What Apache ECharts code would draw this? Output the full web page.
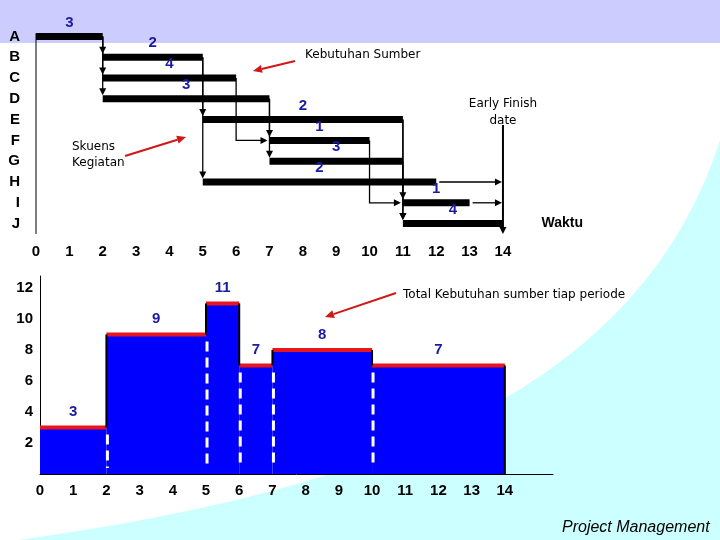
<!DOCTYPE html>
<html><head><meta charset="utf-8">
<script src="https://cdn.jsdelivr.net/npm/echarts@6/dist/echarts.min.js"></script>
<style>html,body{margin:0;padding:0;background:#fff}#c{width:720px;height:540px}</style>
</head><body><div id="c"></div><script>
// ---- data ----
const activities = ['A','B','C','D','E','F','G','H','I','J'];
const taskStart = [0,2,2,2,5,7,7,5,11,11];
const taskEnd   = [2,5,6,7,11,10,11,12,13,14];
const taskResource = [3,2,4,3,2,1,3,2,1,4];
const taskPredecessors = [[],['A'],['A'],['A'],['B'],['C','D'],['D'],['B'],['F','E'],['E','G']];
const earlyFinish = 14;
const timeTicks = [0,1,2,3,4,5,6,7,8,9,10,11,12,13,14];
const periodStart = [0,2,5,6,7,10];
const periodEnd   = [2,5,6,7,10,14];
const periodTotal = [3,9,11,7,8,7];
const resourceTicks = [2,4,6,8,10,12];

// ---- styling ----
const LABEL_BLUE = '#1b1ba0';
const BOLD_FONT = 'bold 15px "Liberation Sans", Arial, sans-serif';
const TEXT_FONT = '12px "DejaVu Sans", sans-serif';

function txt(text, x, y, align, vAlign, font, fill) {
  return {type:'text', style:{text:text, x:x, y:y, align:align, textAlign:align,
    verticalAlign:vAlign, textVerticalAlign:vAlign, font:font, fill:fill || '#000'}};
}
function headDown(x, y) {
  return {type:'polygon', shape:{points:[[x-3.5,y-7],[x+3.5,y-7],[x,y]]}, style:{fill:'#000'}};
}
function headRight(x, y) {
  return {type:'polygon', shape:{points:[[x-7,y-3.5],[x-7,y+3.5],[x,y]]}, style:{fill:'#000'}};
}
function line(pts, w, color, dash) {
  return {type:'polyline', shape:{points:pts}, style:{stroke:color||'#000', lineWidth:w||1, fill:null, lineDash:dash||null}};
}

// Gantt bars
function renderTask(params, api) {
  const s = api.value(0), e = api.value(1), row = api.value(2);
  const p0 = api.coord([s, row]), p1 = api.coord([e, row]);
  const h = 7;
  return {type:'group', children:[
    {type:'rect', shape:{x:p0[0], y:p0[1]-h/2, width:p1[0]-p0[0], height:h}, style:{fill:'#000'}},
    txt(String(api.value(3)), (p0[0]+p1[0])/2, p0[1]-h/2-3, 'center', 'bottom', BOLD_FONT, LABEL_BLUE)
  ]};
}

// dependency arrows
const deps = [];
taskPredecessors.forEach((preds, si) => preds.forEach(p => {
  const pi = activities.indexOf(p);
  deps.push([taskEnd[pi], pi, taskStart[si], si]);
}));
const finishTasks = [];
activities.forEach((a, i) => {
  const hasSucc = taskPredecessors.some(pr => pr.includes(a));
  if (!hasSucc && taskEnd[i] < earlyFinish) finishTasks.push([taskEnd[i], i, earlyFinish, i]);
});
function renderDep(params, api) {
  const p = api.coord([api.value(0), api.value(1)]);
  const s = api.coord([api.value(2), api.value(3)]);
  const ch = [];
  if (Math.abs(p[0]-s[0]) < 0.5) {
    ch.push(line([[p[0], p[1]], [p[0], s[1]-8]], 1.3));
    ch.push(headDown(p[0], s[1]-3.5));
  } else if (Math.abs(p[1]-s[1]) < 0.5) {
    ch.push(line([[p[0]+3, p[1]], [s[0]-6, s[1]]], 1.3));
    ch.push(headRight(s[0]-1, s[1]));
  } else {
    ch.push(line([[p[0], p[1]], [p[0], s[1]], [s[0]-8, s[1]]], 1.3));
    ch.push(headRight(s[0]-2, s[1]));
  }
  return {type:'group', children:ch};
}
function renderFinish(params, api) {
  const cs = params.coordSys;
  const v = api.value(0);
  const x = api.coord([v, 0])[0];
  const top = (api.coord([v, 4])[1] + api.coord([v, 5])[1]) / 2 - 5;
  const bottom = cs.y + cs.height;
  const yTopAxis = api.coord([0, 0])[1] - 3;
  return {type:'group', children:[
    line([[cs.x, yTopAxis], [cs.x, bottom]], 1),
    line([[x, top], [x, bottom-6]], 2),
    headDown(x, bottom),
    txt('Early Finish', x, top-21, 'center', 'middle', TEXT_FONT),
    txt('date', x, top-4, 'center', 'middle', TEXT_FONT)
  ]};
}

// resource histogram
function renderPeriod(params, api) {
  const i = params.dataIndex;
  const s = api.value(0), e = api.value(1), v = api.value(2);
  const b0 = api.coord([s, 0]), t1 = api.coord([e, v]);
  const x0 = b0[0], x1 = t1[0], yb = b0[1], yt = t1[1];
  const ch = [
    {type:'rect', shape:{x:x0, y:yt, width:x1-x0, height:yb-yt}, style:{fill:'#0000FF'}},
    {type:'rect', shape:{x:x0, y:yt-2, width:x1-x0, height:4}, style:{fill:'#E8141E'}},
    txt(String(v), (x0+x1)/2, yt-8, 'center', 'bottom', BOLD_FONT, LABEL_BLUE)
  ];
  if (i > 0) {
    const prevTop = api.coord([s, periodTotal[i-1]])[1];
    ch.push(line([[x0, prevTop], [x0, yt]], 2));
    const lowTop = Math.max(prevTop, yt);
    ch.push(line([[x0+1, lowTop+7], [x0+1, yb-6]], 3, '#fff', [10, 6]));
  }
  if (i === periodTotal.length - 1) ch.push(line([[x1, yt], [x1, yb]], 2));
  return {type:'group', children:ch};
}

// ---- decorations ----
function redArrow(x1, y1, x2, y2) {
  const a = Math.atan2(y2-y1, x2-x1), L = 9, W = 4;
  const bx = x2 - L*Math.cos(a), by = y2 - L*Math.sin(a);
  const px = -Math.sin(a)*W, py = Math.cos(a)*W;
  return [
    {type:'line', shape:{x1:x1, y1:y1, x2:bx, y2:by}, style:{stroke:'#d01818', lineWidth:2}},
    {type:'polygon', shape:{points:[[x2,y2],[bx+px,by+py],[bx-px,by-py]]}, style:{fill:'#d01818'}}
  ];
}
function bezierPts(p0, p1, p2, p3, n) {
  const pts = [];
  for (let k = 0; k <= n; k++) {
    const t = k/n, u = 1-t;
    pts.push([u*u*u*p0[0]+3*u*u*t*p1[0]+3*u*t*t*p2[0]+t*t*t*p3[0],
              u*u*u*p0[1]+3*u*u*t*p1[1]+3*u*t*t*p2[1]+t*t*t*p3[1]]);
  }
  return pts;
}
const cyanPts = bezierPts([18,540],[380,490],[640,390],[720,140],60).concat([[720,540]]);
function gtext(text, x, y, font, align) {
  return {type:'text', x:x, y:y, silent:true, style:{text:text, font:font, fill:'#000',
    align:align||'left', textAlign:align||'left', verticalAlign:'middle', textVerticalAlign:'middle'}};
}
const graphics = [
  {type:'rect', z:-10, silent:true, shape:{x:0, y:0, width:720, height:43}, style:{fill:'#CCCCFF'}},
  {type:'polygon', z:-10, silent:true, shape:{points:cyanPts}, style:{fill:'#CCFFFF'}},
  gtext('Kebutuhan Sumber', 305, 55, TEXT_FONT),
  gtext('Skuens', 72, 147, TEXT_FONT),
  gtext('Kegiatan', 72, 163, TEXT_FONT),
  gtext('Total Kebutuhan sumber tiap periode', 403, 295, TEXT_FONT),
  gtext('Project Management', 562, 528, 'italic 16px "Liberation Sans", Arial, sans-serif')
].concat(redArrow(295, 61, 253, 71), redArrow(125, 156, 186, 137), redArrow(396, 293, 325, 317));

const axisLabelX = (margin) => ({
  formatter: v => timeTicks.includes(v) ? String(v) : '',
  color:'#000', fontWeight:'bold', fontSize:15, fontFamily:'"Liberation Sans", Arial, sans-serif', margin:margin
});

const chart = echarts.init(document.getElementById('c'), null, {renderer:'canvas'});
chart.setOption({
  animation:false,
  backgroundColor:'#fff',
  graphic:{elements:graphics},
  grid:[
    {left:36, top:26, width:547, height:208},
    {left:40, top:276, width:513, height:198}
  ],
  xAxis:[
    {gridIndex:0, type:'value', min:0, max:16.4, interval:1,
     axisLine:{lineStyle:{color:'#000', width:1}}, axisTick:{show:false}, splitLine:{show:false},
     axisLabel:axisLabelX(10),
     name:'Waktu', nameLocation:'end', nameGap:0,
     nameTextStyle:{align:'right', verticalAlign:'bottom', padding:[0,0,4,0], color:'#000',
       fontWeight:'bold', fontSize:14, fontFamily:'"Liberation Sans", Arial, sans-serif'}},
    {gridIndex:1, type:'value', min:0, max:15.45, interval:1,
     axisLine:{lineStyle:{color:'#000', width:1}}, axisTick:{show:false}, splitLine:{show:false},
     axisLabel:axisLabelX(9)}
  ],
  yAxis:[
    {gridIndex:0, type:'category', data:activities, inverse:true,
     axisLine:{show:false}, axisTick:{show:false}, splitLine:{show:false},
     axisLabel:{color:'#000', fontWeight:'bold', fontSize:15, fontFamily:'"Liberation Sans", Arial, sans-serif', margin:16}},
    {gridIndex:1, type:'value', min:0, max:12.77, interval:2,
     axisLine:{show:true, lineStyle:{color:'#000', width:1}}, axisTick:{show:false}, splitLine:{show:false},
     axisLabel:{formatter: v => resourceTicks.includes(v) ? String(v) : '',
       color:'#000', fontWeight:'bold', fontSize:15, fontFamily:'"Liberation Sans", Arial, sans-serif', margin:7}}
  ],
  series:[
    {type:'custom', xAxisIndex:0, yAxisIndex:0, renderItem:renderDep,
     data:deps.concat(finishTasks), encode:{x:[0,2], y:[1,3]}, z:2},
    {type:'custom', xAxisIndex:0, yAxisIndex:0, renderItem:renderTask,
     data:activities.map((a,i) => [taskStart[i], taskEnd[i], i, taskResource[i]]),
     encode:{x:[0,1], y:2}, z:3},
    {type:'custom', xAxisIndex:0, yAxisIndex:0, renderItem:renderFinish,
     data:[[earlyFinish, 4]], encode:{x:0, y:1}, z:2},
    {type:'custom', xAxisIndex:1, yAxisIndex:1, renderItem:renderPeriod,
     data:periodStart.map((s,i) => [s, periodEnd[i], periodTotal[i]]),
     encode:{x:[0,1], y:2}, z:3}
  ]
});
</script></body></html>
